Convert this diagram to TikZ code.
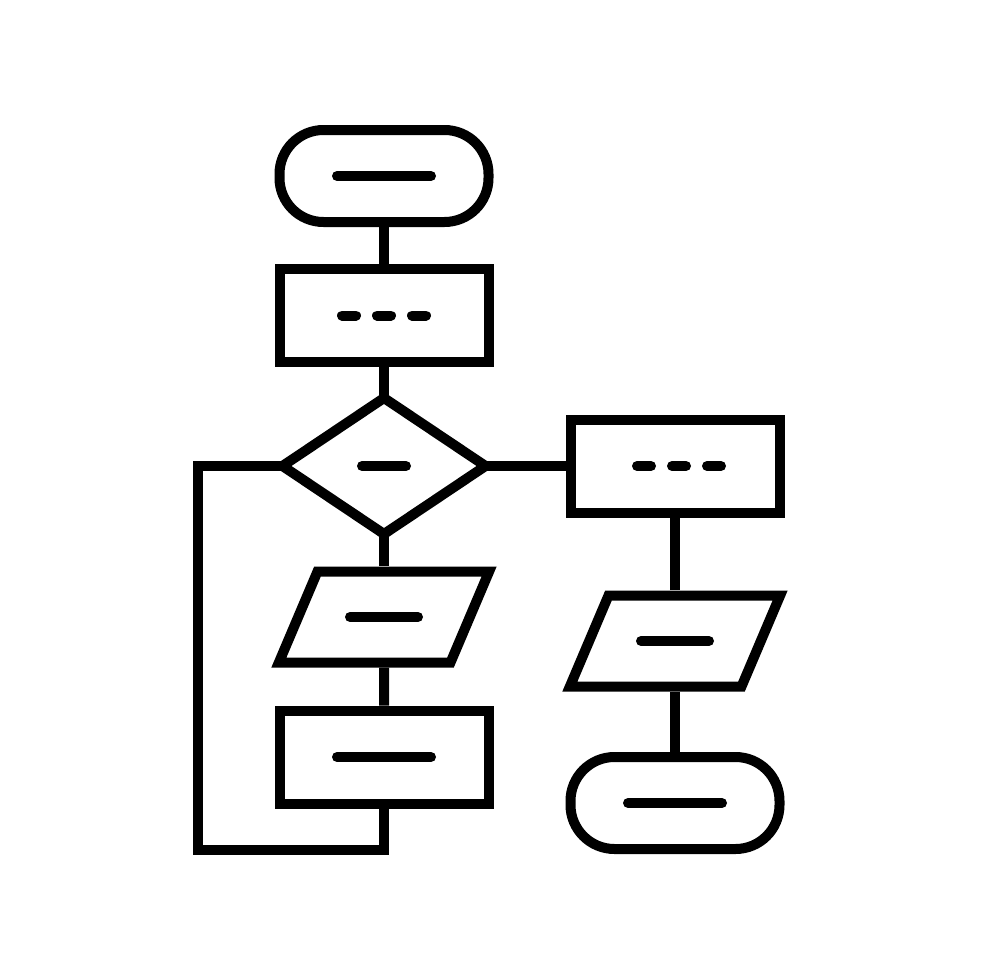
\documentclass[tikz,border=0pt]{standalone}
\usepackage{tikz}
\usetikzlibrary{shapes.geometric, positioning}

\begin{document}
\begin{tikzpicture}[x=1pt, y=-1pt, line width=10pt, auto,
    term node/.style={rectangle, rounded corners=44pt, draw, minimum width=209pt, minimum height=92pt, inner sep=0pt},
    box node/.style={rectangle, draw, minimum width=209pt, minimum height=93pt, inner sep=0pt},
    test node/.style={diamond, draw, minimum width=203pt, minimum height=136pt, inner sep=0pt, outer sep=0pt},
    io node/.style={trapezium, trapezium left angle=67, trapezium right angle=113, draw, inner sep=0pt, text width=133pt, text height=91pt, text depth=0pt},
    bar/.style={line cap=round},
    dots/.style={line cap=round, dash pattern=on 14pt off 21pt}]
    \path[fill=white] (0,0) rectangle (980,980);
    \node[term node] (start) at (384,176) {};
    \node[box node] (step1) [below=37pt of start] {};
    \node[test node] (decide) at (384,466) {};
    \node[io node] (io1) at (384,617) {};
    \node[box node] (step3) at (384,757) {};
    \node[box node] (step2) at (675,466) {};
    \node[io node] (io2) at (675,641) {};
    \node[term node] (stop) at (675,803) {};
    \path
        (start) edge (step1)
        (step1) edge (decide)
        (decide) edge (io1)
        (io1) edge (step3)
        (decide) edge (step2)
        (step2) edge (io2)
        (io2) edge (stop);
    % loop back from the decision round the left side
    \coordinate (loop top) at (198,466);
    \coordinate (loop bottom) at (198,850);
    \draw (decide.west) -- (loop top) -- (loop bottom) -| (step3.south);
    % text bars inside the shapes
    \foreach \n/\w in {start/47, decide/22, io1/34, step3/47, io2/34, stop/47}
        \draw[bar] ([xshift=-\w pt]\n.center) -- ([xshift=\w pt]\n.center);
    \draw[dots] ([xshift=-42pt]step1.center) -- ([xshift=42pt]step1.center);
    \draw[dots] ([xshift=-38pt]step2.center) -- ([xshift=46pt]step2.center);
\end{tikzpicture}
\end{document}
